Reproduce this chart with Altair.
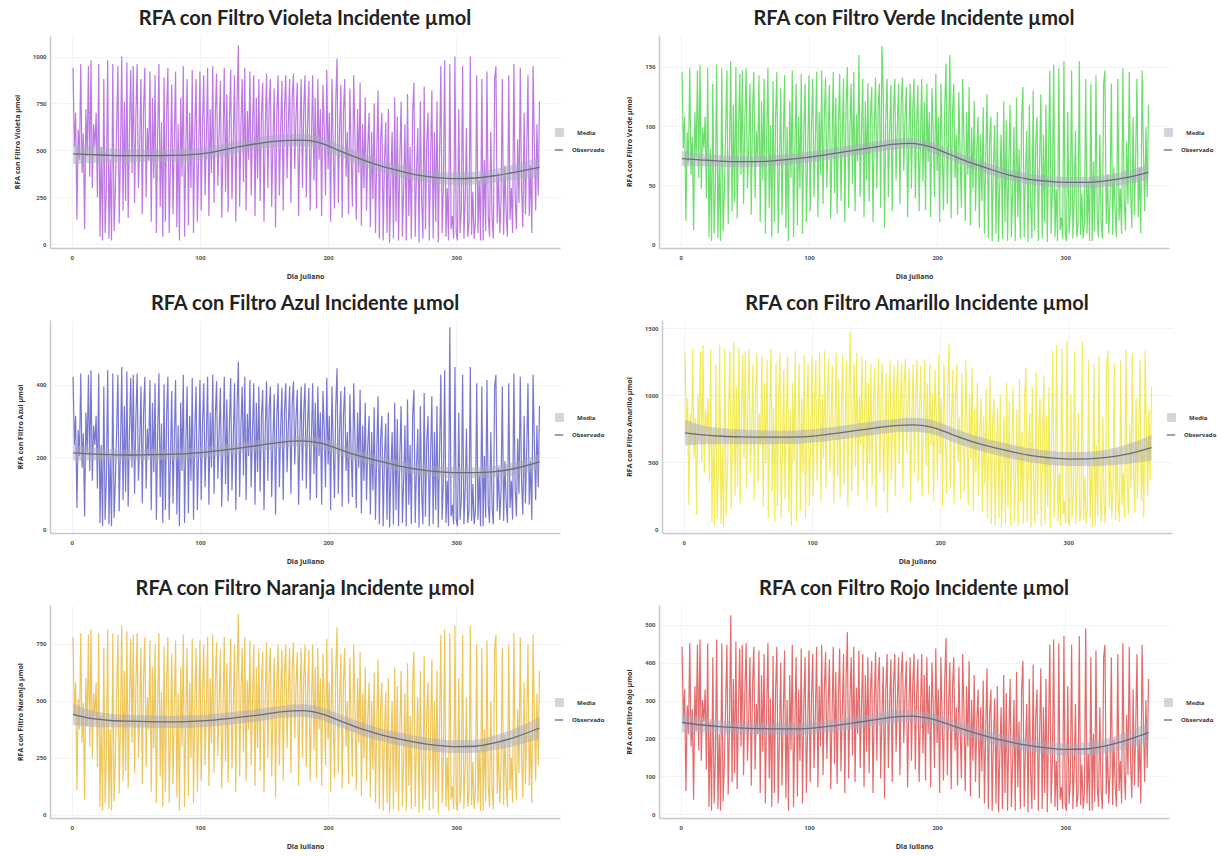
import altair as alt
import pandas as pd

# ---------------- data ----------------
DIAS_MEDIA = [1, 15, 30, 45, 60, 75, 90, 105, 120, 135, 150, 165, 180, 195, 210,
              225, 240, 255, 270, 285, 300, 315, 330, 345, 365]
X_TICKS = [0, 100, 200, 300]

VIOLETA = [
    940, 520, 700, 130, 610, 450, 960, 380, 590, 80,
    720, 470, 950, 360, 980, 300, 640, 520, 700, 250,
    960, 40, 520, 20, 880, 60, 310, 980, 30, 450,
    20, 960, 70, 290, 620, 950, 110, 500, 1000, 180,
    760, 230, 970, 140, 600, 930, 380, 950, 220, 680,
    960, 300, 540, 880, 160, 720, 940, 250, 620, 450,
    920, 120, 780, 350, 900, 60, 580, 960, 200, 650,
    40, 890, 120, 700, 940, 60, 430, 850, 160, 560,
    920, 90, 640, 20, 780, 360, 950, 40, 520, 880,
    100, 700, 300, 930, 60, 610, 880, 120, 480, 920,
    180, 650, 900, 260, 560, 940, 150, 720, 380, 950,
    220, 690, 910, 310, 600, 870, 140, 530, 940, 280,
    800, 170, 650, 930, 240, 560, 900, 120, 760, 1060,
    200, 640, 880, 330, 940, 180, 710, 450, 920, 260,
    600, 900, 150, 780, 350, 880, 230, 690, 860, 120,
    620, 910, 300, 740, 880, 200, 560, 830, 90, 700,
    900, 260, 620, 870, 180, 730, 900, 350, 640, 880,
    220, 780, 910, 400, 690, 860, 150, 600, 880, 300,
    720, 900, 250, 650, 870, 180, 560, 900, 340, 780,
    190, 880, 450, 720, 150, 850, 620, 260, 930, 400,
    700, 120, 880, 530, 190, 760, 990, 220, 610, 850,
    140, 700, 880, 360, 600, 160, 830, 480, 200, 900,
    560, 130, 720, 380, 860, 100, 640, 300, 780, 180,
    520, 700, 90, 600, 240, 750, 60, 480, 820, 30,
    560, 700, 20, 430, 650, 60, 720, 10, 350, 600,
    30, 780, 120, 680, 20, 450, 760, 40, 300, 640,
    20, 800, 150, 520, 30, 700, 860, 40, 380, 620,
    10, 760, 240, 30, 840, 80, 540, 700, 20, 450,
    820, 30, 600, 120, 760, 10, 480, 950, 60, 300,
    980, 40, 300, 20, 960, 80, 150, 30, 1000, 60,
    20, 720, 60, 180, 950, 30, 240, 620, 40, 110,
    1000, 50, 280, 30, 120, 900, 60, 340, 20, 880,
    20, 450, 70, 920, 150, 40, 600, 130, 30, 880,
    950, 110, 380, 60, 240, 880, 50, 420, 160, 40,
    900, 130, 300, 60, 960, 250, 80, 560, 220, 940,
    300, 90, 700, 160, 480, 900, 150, 420, 60, 950,
    520, 180, 640, 260, 760]
VIOLETA_MEDIA = [482, 478, 474, 472, 472, 473, 476, 485, 505, 525, 542, 552, 555,
                 538, 495, 455, 420, 392, 368, 355, 350, 353, 365, 383, 410]
VIOLETA_BANDA = [55, 45, 38, 35, 33, 32, 32, 32, 32, 32, 32, 32, 33,
                 33, 33, 33, 33, 33, 33, 33, 33, 34, 36, 42, 52]

VERDE = [
    146, 81, 108, 20, 95, 70, 149, 59, 91, 12,
    112, 73, 147, 56, 152, 47, 99, 81, 108, 39,
    149, 6, 81, 3, 136, 9, 48, 152, 5, 70,
    3, 149, 11, 45, 96, 147, 17, 78, 155, 28,
    118, 36, 150, 22, 93, 144, 59, 147, 34, 105,
    149, 47, 84, 136, 25, 112, 146, 39, 96, 70,
    143, 19, 121, 54, 140, 9, 90, 149, 31, 101,
    6, 138, 19, 108, 146, 9, 67, 132, 25, 87,
    143, 14, 99, 3, 121, 56, 147, 6, 81, 136,
    16, 108, 47, 144, 9, 95, 136, 19, 74, 143,
    28, 101, 140, 40, 87, 146, 23, 112, 59, 147,
    34, 107, 141, 48, 93, 135, 22, 82, 146, 43,
    124, 26, 101, 144, 37, 87, 140, 19, 118, 150,
    31, 99, 136, 51, 146, 28, 110, 70, 160, 40,
    93, 140, 23, 121, 54, 136, 36, 107, 133, 19,
    96, 141, 47, 115, 136, 31, 168, 129, 14, 108,
    140, 40, 96, 135, 28, 113, 140, 54, 99, 136,
    34, 121, 141, 62, 107, 133, 23, 93, 136, 47,
    112, 140, 39, 101, 135, 28, 87, 140, 53, 121,
    29, 136, 70, 112, 23, 132, 96, 40, 144, 62,
    108, 19, 136, 82, 29, 118, 153, 34, 95, 160,
    22, 108, 136, 56, 93, 25, 129, 74, 31, 140,
    87, 20, 112, 59, 133, 16, 99, 47, 121, 28,
    81, 108, 14, 93, 37, 116, 9, 74, 127, 5,
    87, 108, 3, 67, 101, 9, 112, 2, 54, 93,
    5, 121, 19, 105, 3, 70, 118, 6, 47, 99,
    3, 124, 23, 81, 5, 108, 133, 6, 59, 96,
    2, 118, 37, 5, 130, 12, 84, 108, 3, 70,
    127, 5, 93, 19, 118, 2, 74, 147, 9, 47,
    152, 6, 47, 3, 149, 12, 23, 5, 155, 9,
    3, 112, 9, 28, 147, 5, 37, 96, 6, 17,
    155, 8, 43, 5, 19, 140, 9, 53, 3, 136,
    3, 70, 11, 143, 23, 6, 93, 20, 5, 136,
    147, 17, 59, 9, 37, 136, 8, 65, 25, 6,
    140, 20, 47, 9, 149, 39, 12, 87, 34, 146,
    47, 14, 108, 25, 74, 140, 23, 65, 9, 147,
    81, 28, 99, 40, 118]
VERDE_MEDIA = [72.5, 71.5, 70.5, 70, 70, 71, 72.5, 74.5, 77, 79.5, 82, 84.5, 85.5,
               82.5, 76, 69.5, 64, 59, 55.5, 53.5, 52.5, 52.5, 53.5, 56, 61]
VERDE_BANDA = [6.5, 5.5, 5, 4.8, 4.5, 4.5, 4.5, 4.5, 4.5, 4.5, 4.5, 4.5, 4.5,
               4.5, 4.5, 4.5, 4.5, 4.5, 4.5, 4.5, 4.5, 4.5, 5, 5.5, 6.5]

AZUL = [
    423, 234, 315, 59, 275, 203, 432, 171, 266, 36,
    324, 212, 428, 162, 441, 135, 288, 234, 315, 113,
    432, 18, 234, 9, 396, 27, 140, 441, 14, 203,
    9, 432, 32, 131, 279, 428, 50, 225, 450, 81,
    342, 104, 437, 63, 270, 419, 171, 428, 99, 306,
    432, 135, 243, 396, 72, 324, 423, 113, 279, 203,
    414, 54, 351, 158, 405, 27, 261, 432, 90, 293,
    18, 401, 54, 315, 423, 27, 194, 383, 72, 252,
    414, 41, 288, 9, 351, 162, 428, 18, 234, 396,
    45, 315, 135, 419, 27, 275, 396, 54, 216, 414,
    81, 293, 405, 117, 252, 423, 68, 324, 171, 428,
    99, 311, 410, 140, 270, 392, 63, 239, 423, 126,
    360, 77, 293, 419, 108, 252, 405, 54, 342, 465,
    90, 288, 396, 149, 423, 81, 320, 203, 414, 117,
    270, 405, 68, 351, 158, 396, 104, 311, 387, 54,
    279, 410, 135, 333, 396, 90, 252, 374, 41, 315,
    405, 117, 279, 392, 81, 329, 405, 158, 288, 396,
    99, 351, 410, 180, 311, 387, 68, 270, 396, 135,
    324, 405, 113, 293, 392, 81, 252, 405, 153, 351,
    86, 396, 203, 324, 68, 383, 279, 117, 419, 180,
    315, 54, 396, 239, 86, 342, 446, 99, 275, 383,
    63, 315, 396, 162, 270, 72, 374, 216, 90, 405,
    252, 59, 324, 171, 387, 45, 288, 135, 351, 81,
    234, 315, 41, 270, 108, 338, 27, 216, 369, 14,
    252, 315, 9, 194, 293, 27, 324, 5, 158, 270,
    14, 351, 54, 306, 9, 203, 342, 18, 135, 288,
    9, 360, 68, 234, 14, 315, 387, 18, 171, 279,
    5, 342, 108, 14, 378, 36, 243, 315, 9, 203,
    369, 14, 270, 54, 342, 5, 216, 428, 27, 135,
    441, 18, 135, 9, 560, 36, 68, 14, 450, 27,
    9, 324, 27, 81, 428, 14, 108, 279, 18, 50,
    450, 23, 126, 14, 54, 405, 27, 153, 9, 396,
    9, 203, 32, 414, 68, 18, 270, 59, 14, 396,
    428, 50, 171, 27, 108, 396, 23, 189, 72, 18,
    405, 59, 135, 27, 432, 113, 36, 252, 99, 423,
    135, 41, 315, 72, 216, 405, 68, 189, 27, 428,
    234, 81, 288, 117, 342]
AZUL_MEDIA = [212, 209, 207, 206, 207, 208, 210, 214, 220, 227, 235, 242, 245,
              238, 220, 203, 189, 176, 166, 160, 157, 157, 160, 168, 187]
AZUL_BANDA = [22, 18, 16, 15, 15, 15, 15, 15, 15, 15, 15, 15, 15,
              15, 15, 15, 15, 15, 15, 15, 15, 15, 16, 18, 22]

AMARILLO = [
    1316, 728, 980, 182, 854, 630, 1344, 532, 826, 112,
    1008, 658, 1330, 504, 1372, 420, 896, 728, 980, 350,
    1344, 56, 728, 28, 1232, 84, 434, 1372, 42, 630,
    28, 1344, 98, 406, 868, 1330, 154, 700, 1400, 252,
    1064, 322, 1358, 196, 840, 1302, 532, 1330, 308, 952,
    1344, 420, 756, 1232, 224, 1008, 1316, 350, 868, 630,
    1288, 168, 1092, 490, 1260, 84, 812, 1344, 280, 910,
    56, 1246, 168, 980, 1316, 84, 602, 1190, 224, 784,
    1288, 126, 896, 28, 1092, 504, 1330, 56, 728, 1232,
    140, 980, 420, 1302, 84, 854, 1232, 168, 672, 1288,
    252, 910, 1260, 364, 784, 1316, 210, 1008, 532, 1330,
    308, 966, 1274, 434, 840, 1218, 196, 742, 1316, 392,
    1120, 238, 910, 1302, 336, 784, 1260, 168, 1064, 1480,
    280, 896, 1232, 462, 1316, 252, 994, 630, 1288, 364,
    840, 1260, 210, 1092, 490, 1232, 322, 966, 1204, 168,
    868, 1274, 420, 1036, 1232, 280, 784, 1162, 126, 980,
    1260, 364, 868, 1218, 252, 1022, 1260, 490, 896, 1232,
    308, 1092, 1274, 560, 966, 1204, 210, 840, 1232, 420,
    1008, 1260, 350, 910, 1218, 252, 784, 1260, 476, 1092,
    266, 1232, 630, 1008, 210, 1190, 868, 364, 1302, 560,
    980, 168, 1232, 742, 266, 1064, 1386, 308, 854, 1190,
    196, 980, 1232, 504, 840, 224, 1162, 672, 280, 1260,
    784, 182, 1008, 532, 1204, 140, 896, 420, 1092, 252,
    728, 980, 126, 840, 336, 1050, 84, 672, 1148, 42,
    784, 980, 28, 602, 910, 84, 1008, 14, 490, 840,
    42, 1092, 168, 952, 28, 630, 1064, 56, 420, 896,
    28, 1120, 210, 728, 42, 980, 1204, 56, 532, 868,
    14, 1064, 336, 42, 1176, 112, 756, 980, 28, 630,
    1148, 42, 840, 168, 1064, 14, 672, 1330, 84, 420,
    1372, 56, 420, 28, 1344, 112, 210, 42, 1400, 84,
    28, 1008, 84, 252, 1330, 42, 336, 868, 56, 154,
    1400, 70, 392, 42, 168, 1260, 84, 476, 28, 1232,
    28, 630, 98, 1288, 210, 56, 840, 182, 42, 1232,
    1330, 154, 532, 84, 336, 1232, 70, 588, 224, 56,
    1260, 182, 420, 84, 1344, 350, 112, 784, 308, 1316,
    420, 126, 980, 224, 672, 1260, 210, 588, 84, 1330,
    728, 252, 896, 364, 1064]
AMARILLO_MEDIA = [720, 705, 695, 690, 688, 688, 690, 700, 718, 738, 758, 774, 780,
                  760, 705, 655, 615, 582, 553, 535, 525, 526, 537, 560, 610]
AMARILLO_BANDA = [95, 70, 60, 55, 52, 50, 50, 50, 50, 50, 50, 50, 52,
                  52, 52, 52, 52, 52, 52, 52, 52, 54, 60, 72, 95]

NARANJA = [
    780, 432, 581, 108, 506, 374, 797, 315, 490, 66,
    598, 390, 789, 299, 813, 249, 531, 432, 581, 208,
    797, 33, 432, 17, 730, 50, 257, 813, 25, 374,
    17, 797, 58, 241, 515, 789, 91, 415, 830, 149,
    631, 191, 805, 116, 498, 772, 315, 789, 183, 564,
    797, 249, 448, 730, 133, 598, 780, 208, 515, 374,
    764, 100, 647, 291, 747, 50, 481, 797, 166, 540,
    33, 739, 100, 581, 780, 50, 357, 706, 133, 465,
    764, 75, 531, 17, 647, 299, 789, 33, 432, 730,
    83, 581, 249, 772, 50, 506, 730, 100, 398, 764,
    149, 540, 747, 216, 465, 780, 125, 598, 315, 789,
    183, 573, 755, 257, 498, 722, 116, 440, 780, 232,
    664, 141, 540, 772, 199, 465, 747, 100, 631, 880,
    166, 531, 730, 274, 780, 149, 589, 374, 764, 216,
    498, 747, 125, 647, 291, 730, 191, 573, 714, 100,
    515, 755, 249, 614, 730, 166, 465, 689, 75, 581,
    747, 216, 515, 722, 149, 606, 747, 291, 531, 730,
    183, 647, 755, 332, 573, 714, 125, 498, 730, 249,
    598, 747, 208, 540, 722, 149, 465, 747, 282, 647,
    158, 730, 374, 598, 125, 706, 515, 216, 772, 332,
    581, 100, 730, 440, 158, 631, 822, 183, 506, 706,
    116, 581, 730, 299, 498, 133, 689, 398, 166, 747,
    465, 108, 598, 315, 714, 83, 531, 249, 647, 149,
    432, 581, 75, 498, 199, 623, 50, 398, 681, 25,
    465, 581, 17, 357, 540, 50, 598, 8, 291, 498,
    25, 647, 100, 564, 17, 374, 631, 33, 249, 531,
    17, 664, 125, 432, 25, 581, 714, 33, 315, 515,
    8, 631, 199, 25, 697, 66, 448, 581, 17, 374,
    681, 25, 498, 100, 631, 8, 398, 789, 50, 249,
    813, 33, 249, 17, 797, 66, 125, 25, 830, 50,
    17, 598, 50, 149, 789, 25, 199, 515, 33, 91,
    830, 42, 232, 25, 100, 747, 50, 282, 17, 730,
    17, 374, 58, 764, 125, 33, 498, 108, 25, 730,
    789, 91, 315, 50, 199, 730, 42, 349, 133, 33,
    747, 108, 249, 50, 797, 208, 66, 465, 183, 780,
    249, 75, 581, 133, 398, 747, 125, 349, 50, 789,
    432, 149, 531, 216, 631]
NARANJA_MEDIA = [440, 422, 413, 410, 408, 407, 408, 412, 420, 430, 440, 452, 456,
                 442, 410, 378, 352, 332, 316, 304, 298, 300, 315, 338, 380]
NARANJA_BANDA = [48, 36, 30, 28, 27, 27, 27, 27, 27, 27, 27, 27, 28,
                 28, 28, 28, 28, 28, 28, 28, 28, 29, 32, 38, 48]

ROJO = [
    442, 244, 329, 61, 287, 212, 451, 179, 277, 38,
    338, 221, 447, 169, 461, 141, 301, 244, 329, 118,
    451, 19, 244, 9, 414, 28, 146, 461, 14, 212,
    9, 451, 33, 136, 291, 447, 52, 235, 525, 85,
    357, 108, 456, 66, 282, 437, 179, 447, 103, 320,
    451, 141, 254, 414, 75, 338, 442, 118, 291, 212,
    432, 56, 367, 165, 423, 28, 273, 451, 94, 306,
    19, 418, 56, 329, 442, 28, 202, 400, 75, 263,
    432, 42, 301, 9, 367, 169, 447, 19, 244, 414,
    47, 329, 141, 437, 28, 287, 414, 56, 226, 432,
    85, 306, 423, 122, 263, 442, 71, 338, 179, 447,
    103, 324, 428, 146, 282, 409, 66, 249, 442, 132,
    376, 80, 306, 437, 113, 263, 423, 56, 357, 480,
    94, 301, 414, 155, 442, 85, 334, 212, 432, 122,
    282, 423, 71, 367, 165, 414, 108, 324, 404, 56,
    291, 428, 141, 348, 414, 94, 263, 390, 42, 329,
    423, 122, 291, 409, 85, 343, 423, 165, 301, 414,
    103, 367, 428, 188, 324, 404, 71, 282, 414, 141,
    338, 423, 118, 306, 409, 85, 263, 423, 160, 367,
    89, 414, 212, 338, 71, 400, 291, 122, 437, 188,
    329, 56, 414, 249, 89, 357, 465, 103, 287, 400,
    66, 329, 414, 169, 282, 75, 390, 226, 94, 423,
    263, 61, 338, 179, 404, 47, 301, 141, 367, 85,
    244, 329, 42, 282, 113, 353, 28, 226, 385, 14,
    263, 329, 9, 202, 306, 28, 338, 5, 165, 282,
    14, 367, 56, 320, 9, 212, 357, 19, 141, 301,
    9, 376, 71, 244, 14, 329, 404, 19, 179, 291,
    5, 357, 113, 14, 395, 38, 254, 329, 9, 212,
    385, 14, 282, 56, 357, 5, 226, 447, 28, 141,
    461, 19, 141, 9, 451, 38, 71, 14, 470, 28,
    9, 338, 28, 85, 447, 14, 113, 291, 19, 52,
    470, 24, 132, 14, 56, 490, 28, 160, 9, 414,
    9, 212, 33, 432, 71, 19, 282, 61, 14, 414,
    447, 52, 179, 28, 113, 414, 24, 197, 75, 19,
    423, 61, 141, 28, 451, 118, 38, 263, 103, 442,
    141, 42, 329, 75, 226, 423, 71, 197, 28, 447,
    244, 85, 301, 122, 357]
ROJO_MEDIA = [242, 236, 231, 228, 226, 225, 225, 228, 234, 241, 248, 256, 259,
              252, 236, 219, 204, 192, 182, 175, 171, 172, 179, 192, 215]
ROJO_BANDA = [26, 20, 17, 16, 16, 16, 16, 16, 16, 16, 16, 16, 16,
              16, 16, 16, 16, 16, 16, 16, 16, 17, 18, 21, 26]

PANW, PANH = 510, 213


def panel(nombre, obs, media, banda, color, ydom, yticks):
    df_obs = pd.DataFrame({"Dia": list(range(1, len(obs) + 1)), "Valor": obs})
    df_med = pd.DataFrame({
        "Dia": DIAS_MEDIA,
        "Valor": media,
        "Inf": [m - b for m, b in zip(media, banda)],
        "Sup": [m + b for m, b in zip(media, banda)],
        "Banda": ["Media"] * len(media),
        "Linea": ["Observado"] * len(media),
    })
    xax = alt.Axis(values=X_TICKS, title="Dia Juliano", format="d")
    yax = alt.Axis(values=yticks, title=f"RFA con Filtro {nombre} µmol", format="d")
    xs = alt.Scale(domain=[-17, 381], nice=False, zero=False)
    ys = alt.Scale(domain=ydom, nice=False, zero=False)

    obs_l = alt.Chart(df_obs).mark_line(color=color, strokeWidth=1.2, opacity=0.65).encode(
        x=alt.X("Dia:Q", scale=xs, axis=xax),
        y=alt.Y("Valor:Q", scale=ys, axis=yax),
    )
    band_l = alt.Chart(df_med).mark_area(opacity=0.5, interpolate="monotone").encode(
        x=alt.X("Dia:Q", scale=xs, axis=xax),
        y=alt.Y("Inf:Q", scale=ys, axis=yax),
        y2="Sup:Q",
        fill=alt.Fill("Banda:N", scale=alt.Scale(domain=["Media"], range=["#a9a9bd"]),
                      legend=alt.Legend(title=None, orient="none", legendX=PANW - 6,
                                        legendY=92, symbolType="square", symbolSize=80,
                                        labelFontSize=6, labelFont="Open Sans",
                                        labelFontWeight="bold", labelColor="#333",
                                        labelOffset=12)),
    )
    mean_l = alt.Chart(df_med).mark_line(strokeWidth=1.3, interpolate="monotone").encode(
        x=alt.X("Dia:Q", scale=xs, axis=xax),
        y=alt.Y("Valor:Q", scale=ys, axis=yax),
        stroke=alt.Stroke("Linea:N", scale=alt.Scale(domain=["Observado"], range=["#6a6a7a"]),
                          legend=alt.Legend(title=None, orient="none", legendX=PANW - 6,
                                            legendY=110, symbolType="stroke", symbolSize=70,
                                            symbolStrokeWidth=1.3,
                                            labelFontSize=6, labelFont="Open Sans",
                                            labelFontWeight="bold", labelColor="#333",
                                            labelOffset=8)),
    )
    return alt.layer(obs_l, band_l, mean_l).properties(
        width=PANW, height=PANH,
        title=alt.TitleParams(f"RFA con Filtro {nombre} Incidente µmol", font="Lato",
                              fontSize=20, fontWeight="bold", color="#222",
                              anchor="middle", offset=6),
    )


def indep(c):
    return c.resolve_scale(x="independent", y="independent", fill="independent",
                           stroke="independent").resolve_legend(fill="independent",
                                                                stroke="independent")


p1 = panel("Violeta", VIOLETA, VIOLETA_MEDIA, VIOLETA_BANDA, "#9a30d4", [-20, 1115],
           [0, 250, 500, 750, 1000])
p2 = panel("Verde", VERDE, VERDE_MEDIA, VERDE_BANDA, "#1ccc1c", [-3, 177], [0, 50, 100, 150])
p3 = panel("Azul", AZUL, AZUL_MEDIA, AZUL_BANDA, "#2f2fb8", [-10, 580], [0, 200, 400])
p4 = panel("Amarillo", AMARILLO, AMARILLO_MEDIA, AMARILLO_BANDA, "#ede000", [-25, 1560],
           [0, 500, 1000, 1500])
p5 = panel("Naranja", NARANJA, NARANJA_MEDIA, NARANJA_BANDA, "#e6a800", [-15, 920],
           [0, 250, 500, 750])
p6 = panel("Rojo", ROJO, ROJO_MEDIA, ROJO_BANDA, "#d41c1c", [-10, 552],
           [0, 100, 200, 300, 400, 500])

row1 = indep(alt.hconcat(p1, p2, spacing=20))
row2 = indep(alt.hconcat(p3, p4, spacing=20))
row3 = indep(alt.hconcat(p5, p6, spacing=20))

chart = indep(alt.vconcat(row1, row2, row3, spacing=15)).properties(
    padding={"left": 13, "top": 9, "right": 0, "bottom": 0}
).configure_view(stroke=None).configure_axis(
    domainColor="#c8c8c8", domainWidth=1.5, ticks=False,
    labelFontSize=6, labelFont="Open Sans", labelFontWeight="bold", labelColor="#555",
    titleFontSize=7, titleFont="Open Sans", titleFontWeight="bold", titleColor="#333",
    grid=True, gridColor="#f0f0f0", gridWidth=0.8,
).configure_axisX(labelPadding=6, titlePadding=12).configure_axisY(
    labelPadding=4, titlePadding=12
).configure_concat(spacing=15)

chart.save("out.html", embed_options={"renderer": "svg", "actions": False})
